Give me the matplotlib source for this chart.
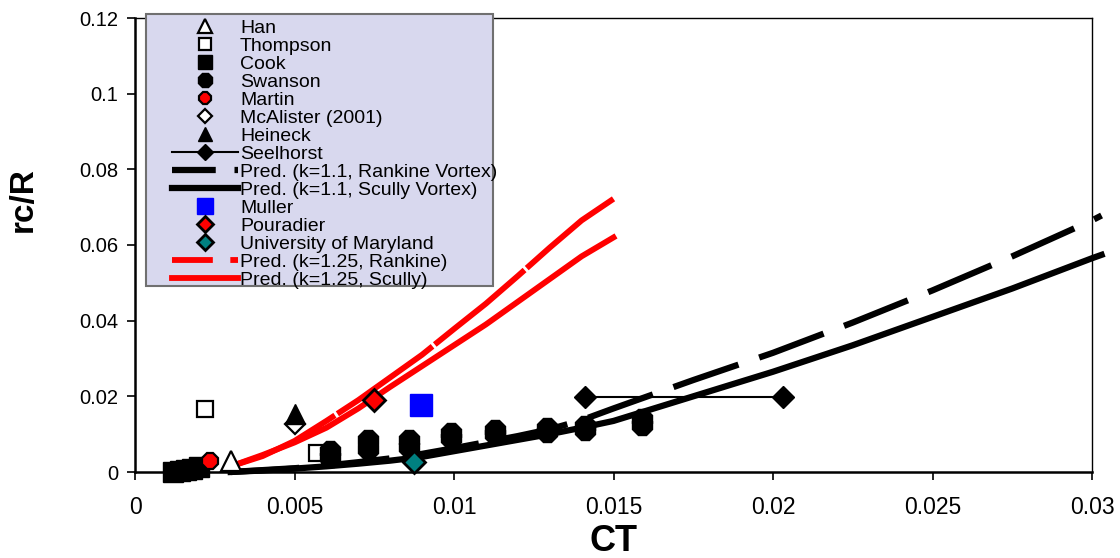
import matplotlib.pyplot as plt
from matplotlib.patches import Rectangle
from matplotlib.lines import Line2D
import numpy as np

plt.rcParams['font.family'] = ['Liberation Sans', 'DejaVu Sans']

# datos experimentales (CT, rc/R)
han_ct = [0.00302]
han_rc = [0.0030]
thompson_ct = [0.00218, 0.0057]
thompson_rc = [0.0167, 0.0050]
cook_ct = [0.0012, 0.0014, 0.0016, 0.0018, 0.0020]
cook_rc = [0.0000, 0.0003, 0.0006, 0.0009, 0.0013]
swanson_ct = [0.0061, 0.0061, 0.0073, 0.0073, 0.0086, 0.0086, 0.0099, 0.0099,
              0.0113, 0.0113, 0.0129, 0.0129, 0.0141, 0.0141, 0.0159, 0.0159]
swanson_rc = [0.0040, 0.0055, 0.0062, 0.0085, 0.0065, 0.0085, 0.0090, 0.0102,
              0.0100, 0.0112, 0.0105, 0.0117, 0.0110, 0.0122, 0.0125, 0.0140]
martin_ct = [0.00234]
martin_rc = [0.0030]
mcalister_ct = [0.0050]
mcalister_rc = [0.0128]
heineck_ct = [0.0050]
heineck_rc = [0.0153]
seelhorst_ct = [0.0141, 0.0203]
seelhorst_rc = [0.0199, 0.0199]
muller_ct = [0.00898]
muller_rc = [0.0177]
pouradier_ct = [0.00748]
pouradier_rc = [0.0191]
umd_ct = [0.00876]
umd_rc = [0.0026]

# predicciones k=1.1
pred_ct = [0.003, 0.004, 0.005, 0.006, 0.007, 0.008, 0.009, 0.010, 0.011, 0.012,
           0.013, 0.014, 0.015, 0.0175, 0.020, 0.0225, 0.025, 0.0275, 0.030, 0.0303]
rank11_rc = [0.0, 0.0005, 0.0010, 0.0017, 0.0026, 0.0036, 0.0048, 0.0063, 0.0079, 0.0095,
             0.0113, 0.0137, 0.0168, 0.0243, 0.0315, 0.0395, 0.0480, 0.0570, 0.0665, 0.0678]
scully11_rc = [0.0, 0.0004, 0.0009, 0.0015, 0.0022, 0.0030, 0.0040, 0.0055, 0.0070, 0.0085,
               0.0100, 0.0117, 0.0135, 0.0200, 0.0265, 0.0335, 0.0410, 0.0485, 0.0565, 0.0574]

# predicciones k=1.25
pred125_ct = [0.003, 0.004, 0.005, 0.006, 0.007, 0.008, 0.009, 0.010, 0.011, 0.012,
              0.013, 0.014, 0.015]
rank125_rc = [0.0015, 0.0042, 0.0082, 0.0135, 0.0190, 0.0250, 0.0310, 0.0378, 0.0445,
              0.0518, 0.0593, 0.0665, 0.0722]
scully125_rc = [0.0015, 0.0045, 0.0078, 0.0117, 0.0168, 0.0225, 0.0280, 0.0335, 0.0390,
                0.0450, 0.0510, 0.0570, 0.0620]

fig = plt.figure(figsize=(11.2, 5.58), dpi=100)
ax = fig.add_axes([135/1120, 1-472/558, (1092-135)/1120, (472-18)/558])

mew = 1.6
h_han, = ax.plot(han_ct, han_rc, '^', ms=14, mfc='white', mec='black', mew=mew, ls='none', label='Han', zorder=3)
h_tho, = ax.plot(thompson_ct, thompson_rc, 's', ms=12, mfc='white', mec='black', mew=mew, ls='none', label='Thompson', zorder=3)
h_cook, = ax.plot(cook_ct, cook_rc, 's', ms=14, color='black', ls='none', label='Cook', zorder=3, clip_on=False)
h_swa, = ax.plot(swanson_ct, swanson_rc, '8', ms=16, color='black', ls='none', label='Swanson', zorder=3)
h_mar, = ax.plot(martin_ct, martin_rc, '8', ms=13, mfc='red', mec='black', mew=mew, ls='none', label='Martin', zorder=3)
h_mca, = ax.plot(mcalister_ct, mcalister_rc, 'D', ms=10, mfc='white', mec='black', mew=mew, ls='none', label='McAlister (2001)', zorder=3)
h_hei, = ax.plot(heineck_ct, heineck_rc, '^', ms=14, color='black', ls='none', label='Heineck', zorder=3)
h_see, = ax.plot(seelhorst_ct, seelhorst_rc, '-D', ms=11, color='black', lw=1.5, label='Seelhorst', zorder=2.5)

ax.plot(pred_ct, rank11_rc, color='black', lw=4.5, dashes=(11, 3.5), zorder=2, clip_on=False)
h_s11, = ax.plot(pred_ct, scully11_rc, color='black', lw=4.5,
                 label='Pred. (k=1.1, Scully Vortex)', zorder=2, clip_on=False)

h_mul, = ax.plot(muller_ct, muller_rc, 's', ms=16, color='#0000FF', ls='none', label='Muller', zorder=3)
h_pou, = ax.plot(pouradier_ct, pouradier_rc, 'D', ms=11, mfc='red', mec='black', mew=2, ls='none', label='Pouradier', zorder=3)
h_umd, = ax.plot(umd_ct, umd_rc, 'D', ms=11, mfc='#008080', mec='black', mew=2, ls='none', label='University of Maryland', zorder=3, clip_on=False)

ax.plot(pred125_ct, rank125_rc, color='red', lw=4.2, dashes=(20, 0.5), zorder=2)
h_s125, = ax.plot(pred125_ct, scully125_rc, color='red', lw=4.2,
                  label='Pred. (k=1.25, Scully)', zorder=2)

# muestras de leyenda para las lineas discontinuas
h_r11 = Line2D([], [], color='black', lw=4.5, dashes=(7, 3), label='Pred. (k=1.1, Rankine Vortex)')
h_r125 = Line2D([], [], color='red', lw=4.2, dashes=(7, 3), label='Pred. (k=1.25, Rankine)')

ax.set_xlim(0, 0.03)
ax.set_ylim(0, 0.12)
ax.set_xticks(np.arange(0, 0.0301, 0.005))
ax.set_yticks(np.arange(0, 0.1201, 0.02))
ax.set_xticklabels(['0', '0.005', '0.01', '0.015', '0.02', '0.025', '0.03'], fontsize=16.5)
ax.set_yticklabels(['0', '0.02', '0.04', '0.06', '0.08', '0.1', '0.12'], fontsize=14.5)
ax.tick_params(direction='out', length=6, width=1.2)
ax.tick_params(axis='x', pad=11)
ax.tick_params(axis='y', pad=6)

ax.spines['left'].set_linewidth(1.8)
ax.spines['bottom'].set_linewidth(1.8)
ax.spines['top'].set_linewidth(1.0)
ax.spines['right'].set_linewidth(1.0)

ax.set_xlabel('CT', fontsize=26, fontweight='bold')
ax.set_ylabel('rc/R', fontsize=24, fontweight='bold')
ax.xaxis.set_label_coords(0.5, -0.115)
ax.yaxis.set_label_coords(-0.101, 0.6)

# caja de la leyenda
caja = Rectangle((146/1120, 1-286/558), (493-146)/1120, (286-14)/558,
                 transform=fig.transFigure, facecolor='#D8D8EE', edgecolor='#707070',
                 linewidth=1.5, zorder=1)
fig.patches.append(caja)

handles = [h_han, h_tho, h_cook, h_swa, h_mar, h_mca, h_hei, h_see, h_r11, h_s11,
           h_mul, h_pou, h_umd, h_r125, h_s125]
leg = fig.legend(handles=handles, loc='upper left', bbox_to_anchor=(172/1120, 1-19/558),
                 borderaxespad=0, fontsize=14, labelspacing=0.02, handlelength=3.4,
                 handletextpad=0.1, markerscale=0.7, frameon=False, borderpad=0)
leg.set_zorder(2)

plt.savefig('out.png', dpi=100)
